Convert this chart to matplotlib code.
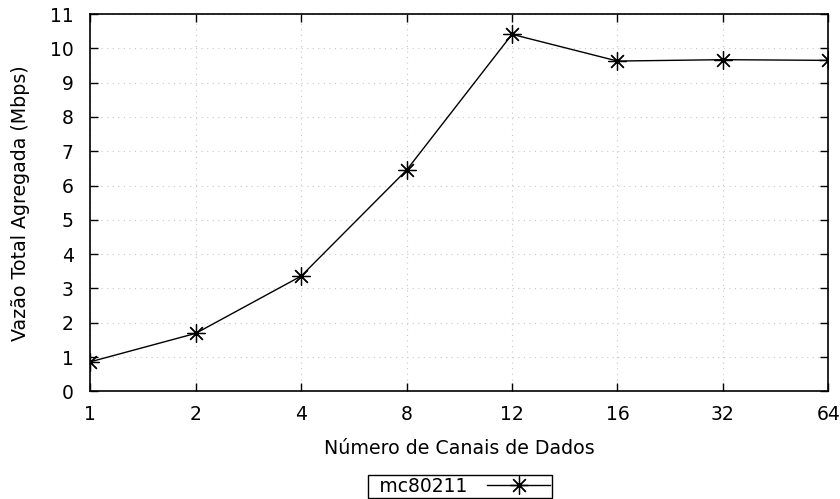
import matplotlib
matplotlib.use("Agg")
import matplotlib.pyplot as plt

# Aggregate throughput per number of data channels
canais = ["1", "2", "4", "8", "12", "16", "32", "64"]
vazao_mc80211 = [0.86, 1.69, 3.36, 6.45, 10.41, 9.63, 9.67, 9.65]
y_ticks = list(range(0, 12))

plt.rcParams["font.family"] = ["DejaVu Sans"]

fig = plt.figure(figsize=(8.4, 4.99), dpi=100)
ax = fig.add_axes([0.1075, 0.2158, 0.8786, 0.756])

x = list(range(len(canais)))
ax.plot(x, vazao_mc80211, color="black", linewidth=1.0,
        marker=(8, 2, 0), markersize=13, markeredgewidth=0.9,
        label="\u2002mc80211")

ax.set_xlim(0, len(canais) - 1)
ax.set_ylim(0, 11)
ax.set_xticks(x)
ax.set_xticklabels(canais)
ax.set_yticks(y_ticks)

ax.tick_params(axis="x", pad=10)
ax.tick_params(axis="y", pad=12)
ax.tick_params(direction="in", length=6, width=1, top=True, right=True,
               labelsize=13.5, colors="black")
ax.grid(True, linestyle=(0, (1, 4)), color="#c8c8c8", linewidth=0.8)
for s in ax.spines.values():
    s.set_linewidth(1.2)

ax.set_xlabel("Número de Canais de Dados", fontsize=13.7, labelpad=11)
ax.set_ylabel("Vazão Total Agregada (Mbps)", fontsize=13.7, labelpad=14)

leg = fig.legend(loc="upper center", bbox_to_anchor=(460 / 840, 1 - 475 / 499),
                 markerfirst=False, fancybox=False, edgecolor="black",
                 framealpha=1, fontsize=13.5, handlelength=3.4,
                 borderpad=0.1, handletextpad=1.05, borderaxespad=0)
leg.get_frame().set_linewidth(1.0)

fig.savefig("out.png", dpi=100)
